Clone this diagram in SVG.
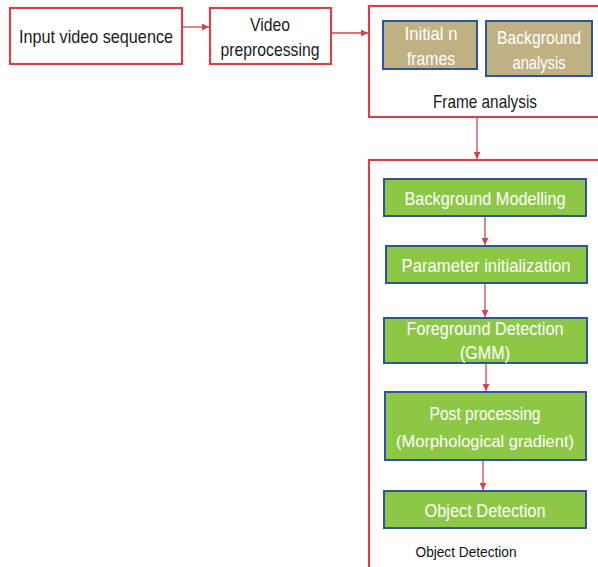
<svg xmlns="http://www.w3.org/2000/svg" width="598" height="567" viewBox="0 0 598 567">
<style>
.rb{fill:#fff;stroke:#D0454C;stroke-width:2.2}
.tan{fill:#BFB183;stroke:#2F5597;stroke-width:2}
.grn{fill:#8DC746;stroke:#2F5597;stroke-width:2}
.c{stroke:#D0454C;stroke-width:1.3;fill:none;marker-end:url(#ah)}
text{font-family:"Liberation Sans",Arial,sans-serif;text-anchor:middle}
.k{fill:#1a1a1a;font-size:19px}
.w{fill:#fff;font-size:19px}
.s{fill:#111;font-size:14.5px}
</style>
<defs>
<marker id="ah" viewBox="0 0 10 10" refX="10" refY="5" markerWidth="7" markerHeight="7" markerUnits="userSpaceOnUse" orient="auto">
<path d="M0,0 L10,5 L0,10 z" fill="#D0454C"/>
</marker>
</defs>
<g id="input">
<rect class="rb" x="10" y="8" width="172" height="56"/>
<text class="k" x="96" y="43" textLength="154" lengthAdjust="spacingAndGlyphs">Input video sequence</text>
</g>
<g id="preproc">
<rect class="rb" x="210" y="8" width="121" height="56"/>
<text class="k" x="270" y="31" textLength="40" lengthAdjust="spacingAndGlyphs">Video</text>
<text class="k" x="270" y="56" textLength="99" lengthAdjust="spacingAndGlyphs">preprocessing</text>
</g>
<g id="frame-analysis">
<rect class="rb" x="369" y="6" width="235" height="111"/>
<text class="k" x="485" y="108" textLength="104" lengthAdjust="spacingAndGlyphs">Frame analysis</text>
</g>
<g id="initial-frames">
<rect class="tan" x="383" y="21" width="94" height="48"/>
<text class="w" x="431" y="40" textLength="53" lengthAdjust="spacingAndGlyphs">Initial n</text>
<text class="w" x="431" y="65" textLength="48" lengthAdjust="spacingAndGlyphs">frames</text>
</g>
<g id="background-analysis">
<rect class="tan" x="486" y="21" width="106" height="55"/>
<text class="w" x="539" y="44" textLength="84" lengthAdjust="spacingAndGlyphs">Background</text>
<text class="w" x="539" y="69" textLength="53" lengthAdjust="spacingAndGlyphs">analysis</text>
</g>
<g id="object-detection-group">
<rect class="rb" x="369" y="160" width="235" height="420"/>
<text class="s" x="466" y="557" textLength="101" lengthAdjust="spacingAndGlyphs">Object Detection</text>
</g>
<g id="bg-modelling">
<rect class="grn" x="384" y="179" width="202" height="37"/>
<text class="w" x="485" y="205" textLength="161" lengthAdjust="spacingAndGlyphs">Background Modelling</text>
</g>
<g id="param-init">
<rect class="grn" x="386" y="246" width="201" height="37"/>
<text class="w" x="486" y="272" font-size="17.5" textLength="169" lengthAdjust="spacingAndGlyphs">Parameter  initialization</text>
</g>
<g id="fg-detection">
<rect class="grn" x="384" y="318" width="203" height="45"/>
<text class="w" x="485" y="335" textLength="157" lengthAdjust="spacingAndGlyphs">Foreground Detection</text>
<text class="w" x="485" y="359" textLength="50" lengthAdjust="spacingAndGlyphs">(GMM)</text>
</g>
<g id="post-processing">
<rect class="grn" x="385" y="392" width="201" height="68"/>
<text class="w" x="485" y="420" textLength="111" lengthAdjust="spacingAndGlyphs">Post processing</text>
<text class="w" x="485" y="447" style="font-size:16.5px" textLength="178" lengthAdjust="spacingAndGlyphs">(Morphological gradient)</text>
</g>
<g id="object-detection">
<rect class="grn" x="384" y="491" width="202" height="37"/>
<text class="w" x="485" y="517" textLength="121" lengthAdjust="spacingAndGlyphs">Object Detection</text>
</g>
<g id="connectors">
<line class="c" x1="183" y1="27" x2="209" y2="27"/>
<line class="c" x1="332" y1="33" x2="368" y2="33"/>
<line class="c" x1="477" y1="118" x2="477" y2="159"/>
<line class="c" x1="485" y1="217" x2="485" y2="245"/>
<line class="c" x1="485" y1="284" x2="485" y2="317"/>
<line class="c" x1="486" y1="364" x2="486" y2="391"/>
<line class="c" x1="483" y1="461" x2="483" y2="490"/>
</g>
</svg>
